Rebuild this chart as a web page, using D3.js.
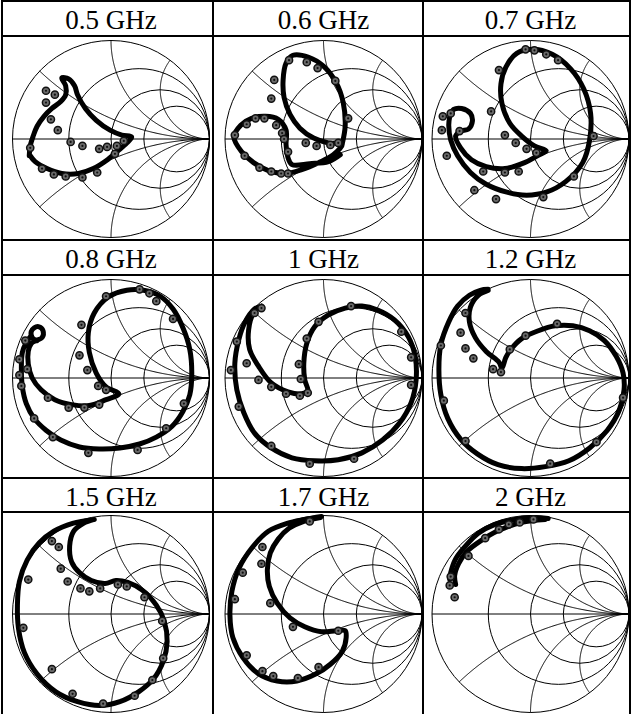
<!DOCTYPE html>
<html>
<head>
<meta charset="utf-8">
<script src="https://cdn.jsdelivr.net/npm/d3@7"></script>
<style>
  body { margin: 0; background: #fff; }
  svg { display: block; }
</style>
</head>
<body>
<div id="chart"></div>
<script>
// frequency label of each panel
const freqLabels = ["0.5 GHz", "0.6 GHz", "0.7 GHz", "0.8 GHz", "1 GHz", "1.2 GHz", "1.5 GHz", "1.7 GHz", "2 GHz"];

// smith chart grid values (normalised resistance / reactance)
const resistanceCircles = [0.4, 1, 2];
const reactanceArcs = [0.4, 1, 2];

// reflection coefficient [re, im] - simulated curve and measured points
const curve05 = [[-0.83,-0.17],[-0.82,-0.07],[-0.79,0.03],[-0.75,0.13],[-0.68,0.23],[-0.60,0.31],[-0.51,0.38],[-0.46,0.45],[-0.46,0.54],[-0.50,0.62],[-0.43,0.61],[-0.37,0.54],[-0.34,0.45],[-0.26,0.31],[-0.15,0.19],[-0.01,0.09],[0.11,0.04],[0.21,0.02],[0.16,-0.04],[0.07,-0.12],[-0.05,-0.22],[-0.18,-0.30],[-0.33,-0.35],[-0.50,-0.35],[-0.65,-0.30],[-0.77,-0.23],[-0.82,-0.17]];
const dots05 = [[-0.66,0.49],[-0.57,0.45],[-0.66,0.37],[-0.61,0.20],[-0.54,0.09],[-0.41,-0.03],[-0.29,-0.07],[-0.12,-0.10],[-0.04,-0.08],[0.06,-0.07],[0.13,-0.02],[0.04,-0.15],[-0.70,-0.30],[-0.58,-0.36],[-0.46,-0.38],[-0.29,-0.39],[-0.14,-0.34],[-0.82,-0.09]];

const curve06 = [[0.19,-0.05],[0.22,0.13],[0.20,0.37],[0.13,0.57],[0.00,0.74],[-0.15,0.83],[-0.31,0.85],[-0.38,0.77],[-0.41,0.60],[-0.40,0.42],[-0.34,0.25],[-0.24,0.11],[-0.10,0.01],[0.05,-0.04],[0.19,-0.05],[0.10,-0.16],[-0.05,-0.24],[-0.22,-0.31],[-0.39,-0.35],[-0.56,-0.32],[-0.71,-0.24],[-0.83,-0.13],[-0.91,0.02],[-0.84,0.14],[-0.73,0.21],[-0.59,0.23],[-0.46,0.20],[-0.38,0.09],[-0.38,-0.06],[-0.36,-0.19],[-0.32,-0.26],[-0.14,-0.25],[0.05,-0.23],[0.17,-0.16]];
const dots06 = [[-0.35,0.80],[-0.17,0.78],[-0.06,0.72],[0.12,0.59],[-0.50,0.60],[-0.53,0.41],[0.25,0.21],[-0.78,0.15],[-0.69,0.21],[-0.60,0.21],[-0.48,0.14],[-0.90,0.04],[-0.42,0.06],[-0.40,0.00],[-0.18,-0.04],[-0.07,-0.07],[-0.36,-0.13],[-0.80,-0.17],[-0.65,-0.29],[-0.53,-0.33],[-0.43,-0.35],[-0.36,-0.35],[0.07,-0.06],[0.15,-0.04]];

const curve07 = [[-0.82,0.23],[-0.78,0.30],[-0.70,0.31],[-0.61,0.26],[-0.59,0.18],[-0.63,0.10],[-0.71,0.08],[-0.76,0.03],[-0.71,-0.09],[-0.60,-0.21],[-0.45,-0.28],[-0.26,-0.30],[-0.06,-0.24],[0.07,-0.17],[0.16,-0.12],[0.04,-0.07],[-0.09,0.03],[-0.21,0.16],[-0.29,0.36],[-0.30,0.56],[-0.25,0.73],[-0.14,0.87],[0.02,0.91],[0.22,0.86],[0.41,0.71],[0.54,0.51],[0.61,0.26],[0.60,-0.01],[0.53,-0.24],[0.36,-0.43],[0.16,-0.54],[-0.04,-0.57],[-0.24,-0.54],[-0.45,-0.46],[-0.61,-0.34],[-0.74,-0.17],[-0.81,-0.01],[-0.83,0.14],[-0.82,0.23]];
const dots07 = [[-0.05,0.91],[0.04,0.90],[0.16,0.86],[0.28,0.80],[-0.32,0.70],[-0.40,0.28],[-0.26,0.04],[-0.15,-0.04],[-0.04,-0.10],[0.06,-0.14],[-0.89,0.23],[-0.81,0.26],[-0.90,0.09],[-0.72,0.08],[-0.85,-0.17],[-0.48,-0.33],[-0.26,-0.34],[-0.12,-0.33],[-0.57,-0.52],[-0.35,-0.61],[0.13,-0.59],[0.44,-0.38],[0.64,0.03]];

const curve08 = [[-0.75,0.38],[-0.80,0.41],[-0.81,0.47],[-0.78,0.51],[-0.73,0.52],[-0.69,0.48],[-0.70,0.41],[-0.76,0.38],[-0.81,0.35],[-0.84,0.27],[-0.84,0.14],[-0.80,0.00],[-0.71,-0.12],[-0.57,-0.22],[-0.40,-0.27],[-0.22,-0.28],[-0.05,-0.22],[0.08,-0.16],[-0.05,-0.09],[-0.15,0.05],[-0.22,0.26],[-0.23,0.46],[-0.17,0.66],[-0.03,0.82],[0.16,0.89],[0.33,0.89],[0.50,0.83],[0.63,0.70],[0.73,0.51],[0.80,0.29],[0.82,0.05],[0.80,-0.17],[0.73,-0.34],[0.62,-0.49],[0.46,-0.60],[0.29,-0.67],[0.09,-0.71],[-0.12,-0.72],[-0.32,-0.70],[-0.51,-0.63],[-0.66,-0.53],[-0.78,-0.41],[-0.86,-0.26],[-0.90,-0.09],[-0.91,0.10],[-0.90,0.26],[-0.86,0.36],[-0.81,0.43]];
const dots08 = [[-0.05,0.83],[0.29,0.90],[0.39,0.86],[0.46,0.78],[0.63,0.60],[-0.30,0.54],[-0.32,0.23],[-0.24,0.08],[-0.13,-0.08],[-0.05,-0.12],[-0.64,-0.20],[-0.43,-0.30],[-0.27,-0.30],[-0.12,-0.27],[-0.93,0.19],[-0.85,0.09],[-0.93,0.03],[-0.91,-0.08],[-0.78,-0.41],[-0.59,-0.60],[-0.23,-0.76],[0.27,-0.73],[0.56,-0.51],[0.74,-0.26],[-0.87,0.38]];

const curve10 = [[-0.63,0.73],[-0.71,0.66],[-0.76,0.49],[-0.75,0.29],[-0.66,0.12],[-0.53,-0.05],[-0.36,-0.14],[-0.22,-0.16],[-0.16,-0.13],[-0.19,-0.02],[-0.20,0.15],[-0.17,0.35],[-0.09,0.52],[0.05,0.64],[0.22,0.71],[0.39,0.73],[0.55,0.69],[0.72,0.59],[0.86,0.42],[0.93,0.22],[0.94,-0.02],[0.89,-0.25],[0.77,-0.46],[0.60,-0.63],[0.39,-0.76],[0.15,-0.83],[-0.09,-0.84],[-0.32,-0.81],[-0.53,-0.71],[-0.70,-0.56],[-0.81,-0.35],[-0.88,-0.12],[-0.90,0.15],[-0.86,0.39],[-0.80,0.56],[-0.70,0.70],[-0.63,0.73]];
const dots10 = [[-0.63,0.71],[-0.70,0.66],[-0.78,0.15],[-0.94,0.08],[-0.66,-0.02],[-0.53,-0.09],[-0.38,-0.16],[-0.24,-0.18],[-0.16,-0.15],[-0.23,-0.01],[-0.25,0.14],[-0.17,0.40],[-0.05,0.57],[0.28,0.73],[0.79,0.47],[0.89,0.21],[0.89,-0.07],[-0.86,-0.29],[-0.53,-0.69],[-0.14,-0.87],[0.31,-0.82],[-0.88,0.37]];

const curve12 = [[-0.43,0.89],[-0.53,0.84],[-0.61,0.72],[-0.62,0.57],[-0.56,0.41],[-0.45,0.27],[-0.32,0.16],[-0.29,0.10],[-0.25,0.21],[-0.20,0.29],[-0.09,0.40],[0.08,0.48],[0.25,0.53],[0.43,0.53],[0.60,0.48],[0.75,0.38],[0.87,0.22],[0.94,0.05],[0.95,-0.12],[0.90,-0.33],[0.78,-0.53],[0.60,-0.71],[0.39,-0.84],[0.15,-0.90],[-0.09,-0.92],[-0.33,-0.88],[-0.54,-0.77],[-0.71,-0.62],[-0.84,-0.41],[-0.91,-0.17],[-0.93,0.09],[-0.91,0.34],[-0.83,0.57],[-0.74,0.73],[-0.62,0.84],[-0.51,0.89],[-0.43,0.90]];
const dots12 = [[-0.66,0.66],[-0.71,0.46],[-0.66,0.30],[-0.58,0.20],[-0.38,0.09],[-0.30,0.06],[-0.05,0.43],[-0.21,0.29],[0.27,0.55],[0.94,-0.20],[0.67,-0.65],[0.20,-0.87],[-0.66,-0.64],[-0.88,-0.23],[-0.91,0.33]];

const curve15 = [[-0.17,0.96],[-0.28,0.92],[-0.38,0.84],[-0.42,0.69],[-0.40,0.53],[-0.32,0.42],[-0.20,0.34],[-0.06,0.31],[0.05,0.34],[0.17,0.32],[0.32,0.24],[0.46,0.09],[0.54,-0.07],[0.57,-0.28],[0.53,-0.48],[0.43,-0.66],[0.28,-0.79],[0.09,-0.89],[-0.11,-0.93],[-0.34,-0.89],[-0.56,-0.79],[-0.75,-0.61],[-0.88,-0.39],[-0.94,-0.14],[-0.95,0.09],[-0.93,0.33],[-0.85,0.55],[-0.73,0.72],[-0.58,0.84],[-0.39,0.92],[-0.17,0.96]];
const dots15 = [[-0.60,0.74],[-0.53,0.68],[-0.51,0.46],[-0.44,0.33],[-0.31,0.26],[-0.22,0.23],[-0.11,0.26],[0.07,0.30],[0.16,0.28],[0.34,0.17],[0.52,-0.07],[-0.84,0.35],[-0.89,-0.14],[-0.60,-0.56],[-0.39,-0.81],[-0.08,-0.91],[0.24,-0.83],[0.42,-0.67],[0.53,-0.45]];

const curve17 = [[-0.02,0.99],[-0.19,0.96],[-0.37,0.92],[-0.56,0.84],[-0.72,0.68],[-0.86,0.46],[-0.93,0.23],[-0.95,-0.01],[-0.92,-0.24],[-0.82,-0.44],[-0.67,-0.60],[-0.47,-0.68],[-0.27,-0.68],[-0.08,-0.61],[0.07,-0.51],[0.19,-0.38],[0.23,-0.24],[0.22,-0.17],[0.13,-0.17],[-0.02,-0.18],[-0.19,-0.13],[-0.34,-0.04],[-0.47,0.11],[-0.55,0.28],[-0.57,0.45],[-0.54,0.62],[-0.46,0.76],[-0.35,0.87],[-0.20,0.94],[-0.03,0.98]];
const dots17 = [[-0.14,0.94],[-0.62,0.68],[-0.63,0.51],[-0.82,0.42],[-0.90,0.15],[-0.54,0.11],[-0.31,-0.13],[0.15,-0.17],[-0.78,-0.42],[-0.62,-0.58],[-0.51,-0.63],[-0.26,-0.65],[-0.05,-0.54]];

const curve20a = [[0.18,0.97],[0.01,0.98],[-0.16,0.96],[-0.36,0.91],[-0.53,0.82],[-0.66,0.69],[-0.76,0.56],[-0.81,0.42],[-0.82,0.35]];
const curve20b = [[0.15,0.96],[-0.09,0.93],[-0.32,0.85],[-0.51,0.74],[-0.65,0.63],[-0.73,0.51],[-0.77,0.39],[-0.76,0.30]];
const dots20 = [[0.03,0.96],[-0.11,0.93],[-0.22,0.91],[-0.32,0.86],[-0.46,0.77],[-0.63,0.59],[-0.81,0.38],[-0.82,0.29],[-0.77,0.17]];

const panels = [
  { label: freqLabels[0], curves: [curve05], dots: dots05 },
  { label: freqLabels[1], curves: [curve06], dots: dots06 },
  { label: freqLabels[2], curves: [curve07], dots: dots07 },
  { label: freqLabels[3], curves: [curve08], dots: dots08 },
  { label: freqLabels[4], curves: [curve10], dots: dots10 },
  { label: freqLabels[5], curves: [curve12], dots: dots12 },
  { label: freqLabels[6], curves: [curve15], dots: dots15 },
  { label: freqLabels[7], curves: [curve17], dots: dots17 },
  { label: freqLabels[8], curves: [curve20a, curve20b], dots: dots20 }
];

// layout
const width = 631, height = 714;
const colLines = [2, 213, 423, 630];
const rowLines = [1, 36, 240, 275, 478, 512];
const colCenters = [111, 323.5, 530.5];
const rowCenters = [139, 378, 614];
const R = 98.5;

const svg = d3.select("#chart")
  .append("svg")
  .attr("width", width)
  .attr("height", height);

// sample reactance arc: z = r + jx, r from 0 to "infinity"
const rSamples = d3.range(0, 0.995, 0.005).map((t) => t / (1 - t));
function gamma(r, x) {
  const den = (r + 1) * (r + 1) + x * x;
  return [(r * r + x * x - 1) / den, (2 * x) / den];
}

panels.forEach(function (p, i) {
  const cx = colCenters[i % 3];
  const cy = rowCenters[Math.floor(i / 3)];

  const xScale = d3.scaleLinear().domain([-1, 1]).range([cx - R, cx + R]);
  const yScale = d3.scaleLinear().domain([-1, 1]).range([cy + R, cy - R]);

  const g = svg.append("g").attr("class", "panel");
  const grid = g.append("g").attr("class", "grid")
    .attr("fill", "none")
    .attr("stroke", "#000")
    .attr("stroke-width", 1);

  // outer circle
  grid.append("circle")
    .attr("cx", xScale(0))
    .attr("cy", yScale(0))
    .attr("r", xScale(1) - xScale(0));

  // real axis
  grid.append("line")
    .attr("x1", xScale(-1)).attr("x2", xScale(1))
    .attr("y1", yScale(0)).attr("y2", yScale(0));

  // constant resistance circles
  grid.selectAll(".rcirc")
    .data(resistanceCircles)
    .enter()
    .append("circle")
    .attr("class", "rcirc")
    .attr("cx", (r) => xScale(r / (1 + r)))
    .attr("cy", yScale(0))
    .attr("r", (r) => xScale(1 / (1 + r)) - xScale(0));

  // constant reactance arcs (both signs)
  const arcLine = d3.line()
    .x((d) => xScale(d[0]))
    .y((d) => yScale(d[1]));
  const arcs = [];
  reactanceArcs.forEach(function (x) {
    arcs.push(rSamples.map((r) => gamma(r, x)).concat([[1, 0]]));
    arcs.push(rSamples.map((r) => gamma(r, -x)).concat([[1, 0]]));
  });
  grid.selectAll(".xarc")
    .data(arcs)
    .enter()
    .append("path")
    .attr("class", "xarc")
    .attr("d", arcLine);

  // simulated curves
  const line = d3.line()
    .x((d) => xScale(d[0]))
    .y((d) => yScale(d[1]))
    .curve(d3.curveCatmullRom.alpha(0.5));

  g.selectAll(".sim")
    .data(p.curves)
    .enter()
    .append("path")
    .attr("class", "sim")
    .attr("fill", "none")
    .attr("stroke", "#000")
    .attr("stroke-width", 5)
    .attr("stroke-linejoin", "round")
    .attr("stroke-linecap", "round")
    .attr("d", line);

  // measured points
  const dots = g.selectAll(".meas")
    .data(p.dots)
    .enter()
    .append("g")
    .attr("class", "meas")
    .attr("transform", (d) => `translate(${xScale(d[0])}, ${yScale(d[1])})`);
  dots.append("circle")
    .attr("r", 3.6)
    .attr("fill", "#6a6a6a")
    .attr("stroke", "#111")
    .attr("stroke-width", 1.5);
  dots.append("circle")
    .attr("r", 1.1)
    .attr("fill", "#111");

  // header label
  svg.append("text")
    .attr("x", cx)
    .attr("y", rowLines[Math.floor(i / 3) * 2] + 28)
    .attr("text-anchor", "middle")
    .style("font-family", "'Liberation Serif', 'Times New Roman', serif")
    .style("font-size", "27px")
    .style("fill", "#000")
    .text(p.label);
});

// table rules
const rules = svg.append("g")
  .attr("stroke", "#000")
  .attr("stroke-width", 2);
rules.selectAll(".vrule")
  .data(colLines)
  .enter()
  .append("line")
  .attr("x1", (d) => d).attr("x2", (d) => d)
  .attr("y1", 0).attr("y2", height);
rules.selectAll(".hrule")
  .data(rowLines)
  .enter()
  .append("line")
  .attr("x1", colLines[0] - 1).attr("x2", colLines[3] + 1)
  .attr("y1", (d) => d).attr("y2", (d) => d);
</script>
</body>
</html>
